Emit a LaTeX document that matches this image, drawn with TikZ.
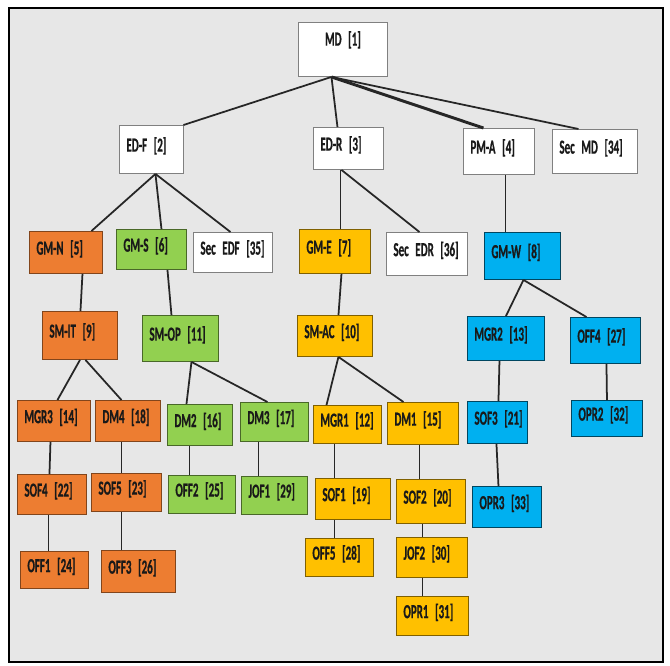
\documentclass[tikz,border=0pt]{standalone}
\usepackage{fontspec}
\newfontfamily\orgfont[FakeStretch=0.55, BoldFeatures={FakeBold=0.6}]{Carlito}
\DeclareRobustCommand\orgsize{\fontsize{17}{19}\selectfont\spaceskip=2pt plus 1pt\relax}
\definecolor{bggray}{RGB}{231,231,231}
\definecolor{orgorange}{RGB}{237,125,49}
\definecolor{orggreen}{RGB}{146,208,80}
\definecolor{orgyellow}{RGB}{255,192,0}
\definecolor{orgblue}{RGB}{0,176,240}
\usetikzlibrary{calc}

\begin{document}
\begin{tikzpicture}[x=0.3mm, y=-0.3mm,
    every node/.style={font=\orgfont\bfseries\orgsize, text=black!90},
    box/.style={draw=#1, line width=0.8pt, anchor=north west, align=left, inner xsep=2.1mm, inner ysep=1mm, text height=4.4mm, text depth=3.1mm},
    sz/.style 2 args={minimum width=#1*0.3mm, minimum height=#2*0.3mm, text width=(#1-14)*0.3mm},
    plainbox/.style={box=black!50, fill=white},
    orangebox/.style={box=orgorange!55!black, fill=orgorange},
    greenbox/.style={box=orggreen!50!black, fill=orggreen},
    yellowbox/.style={box=orgyellow!50!black, fill=orgyellow},
    bluebox/.style={box=orgblue!40!black, fill=orgblue},
    link/.style={line width=1.5pt, draw=black!85}]
    \useasboundingbox (0,0) rectangle (670,665);
    \draw[line width=2.4pt, fill=bggray] (9,8) rectangle (663,662);

    \node[plainbox, sz={89}{54}, align=center, text depth=6.7mm] (md) at (298,22) {MD~[1]};
    \node[plainbox, sz={64}{48}] (edf) at (119,125) {ED-F~[2]};
    \node[plainbox, sz={70}{42}] (edr) at (313,127) {ED-R~[3]};
    \node[plainbox, sz={71}{46}] (pma) at (463,128) {PM-A~[4]};
    \node[plainbox, sz={85}{44}] (secmd) at (552,129) {Sec~MD~[34]};

    \node[orangebox, sz={73}{42}] (gmn) at (29,231) {GM-N~[5]};
    \node[greenbox, sz={70}{40}] (gms) at (116,229) {GM-S~[6]};
    \node[plainbox, sz={79}{40}] (secedf) at (193,232) {Sec~EDF~[35]};
    \node[yellowbox, sz={71}{44}] (gme) at (299,229) {GM-E~[7]};
    \node[plainbox, sz={81}{43}] (secedr) at (386,232) {Sec~EDR~[36]};
    \node[bluebox, sz={76}{47}] (gmw) at (484,232) {GM-W~[8]};

    \node[orangebox, sz={75}{48}] (smit) at (42,311) {SM-IT~[9]};
    \node[greenbox, sz={76}{46}] (smop) at (142,315) {SM-OP~[11]};
    \node[yellowbox, sz={75}{41}] (smac) at (297,315) {SM-AC~[10]};
    \node[bluebox, sz={77}{44}] (mgr2) at (467,316) {MGR2~[13]};
    \node[bluebox, sz={70}{46}] (off4) at (570,317) {OFF4~[27]};

    \node[orangebox, sz={73}{41}] (mgr3) at (17,400) {MGR3~[14]};
    \node[orangebox, sz={65}{41}] (dm4) at (95,400) {DM4~[18]};
    \node[greenbox, sz={65}{41}] (dm2) at (167,404) {DM2~[16]};
    \node[greenbox, sz={68}{39}] (dm3) at (240,402) {DM3~[17]};
    \node[yellowbox, sz={68}{38}] (mgr1) at (313,405) {MGR1~[12]};
    \node[yellowbox, sz={71}{42}] (dm1) at (387,402) {DM1~[15]};
    \node[bluebox, sz={60}{42}] (sof3) at (467,401) {SOF3~[21]};
    \node[bluebox, sz={71}{36}] (opr2) at (571,400) {OPR2~[32]};

    \node[orangebox, sz={69}{40}] (sof4) at (17,474) {SOF4~[22]};
    \node[orangebox, sz={70}{38}] (sof5) at (91,473) {SOF5~[23]};
    \node[greenbox, sz={67}{38}] (off2) at (168,475) {OFF2~[25]};
    \node[greenbox, sz={66}{38}] (jof1) at (241,476) {JOF1~[29]};
    \node[yellowbox, sz={75}{41}] (sof1) at (315,478) {SOF1~[19]};
    \node[yellowbox, sz={69}{44}] (sof2) at (396,479) {SOF2~[20]};
    \node[bluebox, sz={69}{41}] (opr3) at (472,486) {OPR3~[33]};

    \node[orangebox, sz={68}{37}] (off1) at (20,551) {OFF1~[24]};
    \node[orangebox, sz={74}{42}] (off3) at (101,550) {OFF3~[26]};
    \node[yellowbox, sz={68}{38}] (off5) at (305,538) {OFF5~[28]};
    \node[yellowbox, sz={71}{40}] (jof2) at (396,537) {JOF2~[30]};
    \node[yellowbox, sz={72}{39}] (opr1) at (396,596) {OPR1~[31]};

    \draw[link] ($(md.south)+(-11.5,0)$) -- ($(edf.north)+(32,0)$);
    \draw[link] ($(md.south)+(-11.5,0)$) -- ($(edr.north)+(-11,0)$);
    \draw[link, line width=2.5pt] ($(md.south)+(-11.5,0)$) -- ($(pma.north)+(-15.5,0)$);
    \draw[link] ($(md.south)+(-11.5,0)$) -- ($(secmd.north)+(-16.5,0)$);
    \draw[link] ($(edf.south)+(4,0)$) -- ($(gmn.north)+(25.5,0)$);
    \draw[link] ($(edf.south)+(4,0)$) -- ($(gms.north)+(10,0)$);
    \draw[link] ($(edf.south)+(4,0)$) -- ($(secedf.north)+(-2.5,0)$);
    \draw[link] ($(edr.south)+(-8,0)$) -- ($(gme.north)+(5.5,0)$);
    \draw[link] ($(edr.south)+(-7,0)$) -- ($(secedr.north)+(-7.5,0)$);
    \draw[link] ($(pma.south)+(6.5,0)$) -- ($(gmw.north)+(-17,0)$);
    \draw[link] ($(gmn.south)+(16.5,0)$) -- ($(smit.north)+(0.5,0)$);
    \draw[link] ($(gms.south)+(16,0)$) -- ($(smop.north)+(-9,0)$);
    \draw[link] (smit.south) -- ($(mgr3.north)+(3.5,0)$);
    \draw[link] ($(smit.south)+(5.5,0)$) -- ($(dm4.north)+(-6.5,0)$);
    \draw[link] ($(smop.south)+(11,0)$) -- ($(dm2.north)+(-13.5,0)$);
    \draw[link] ($(smop.south)+(11,0)$) -- ($(dm3.north)+(-7,0)$);
    \draw[link] ($(gme.south)+(6.5,0)$) -- ($(smac.north)+(3.5,0)$);
    \draw[link] ($(smac.south)+(3.5,0)$) -- ($(mgr1.north)+(-21,0)$);
    \draw[link] ($(smac.south)+(3.5,0)$) -- ($(dm1.north)+(-19.5,0)$);
    \draw[link] ($(gmw.south)+(1,0)$) -- (mgr2.north);
    \draw[link] ($(gmw.south)+(1,0)$) -- ($(off4.north)+(-19,0)$);
    \draw[link] ($(mgr2.south)+(-6.5,0)$) -- ($(sof3.north)+(1,0)$);
    \draw[link] ($(off4.south)+(1,0)$) -- (opr2.north);
    \draw[link] ($(mgr3.south)+(-3.5,0)$) -- ($(sof4.north)+(-2.5,0)$);
    \draw[link] ($(dm4.south)+(-6.5,0)$) -- ($(sof5.north)+(-5,0)$);
    \draw[link] ($(dm2.south)+(-10.5,0)$) -- ($(off2.north)+(-12.5,0)$);
    \draw[link] ($(dm3.south)+(-16,0)$) -- ($(jof1.north)+(-16,0)$);
    \draw[link] ($(mgr1.south)+(-13,0)$) -- ($(sof1.north)+(-18.5,0)$);
    \draw[link] ($(dm1.south)+(-3.5,0)$) -- ($(sof2.north)+(-11.5,0)$);
    \draw[link] ($(sof3.south)+(-1,0)$) -- ($(opr3.north)+(-8.5,0)$);
    \draw[link] ($(sof4.south)+(-3.5,0)$) -- ($(off1.north)+(-6,0)$);
    \draw[link] ($(sof5.south)+(-5,0)$) -- ($(off3.north)+(-17,0)$);
    \draw[link] ($(sof1.south)+(-18.5,0)$) -- ($(off5.north)+(-5,0)$);
    \draw[link] ($(sof2.south)+(-8.5,0)$) -- ($(jof2.north)+(-9.5,0)$);
    \draw[link] ($(jof2.south)+(-9.5,0)$) -- ($(opr1.north)+(-10,0)$);
\end{tikzpicture}
\end{document}
